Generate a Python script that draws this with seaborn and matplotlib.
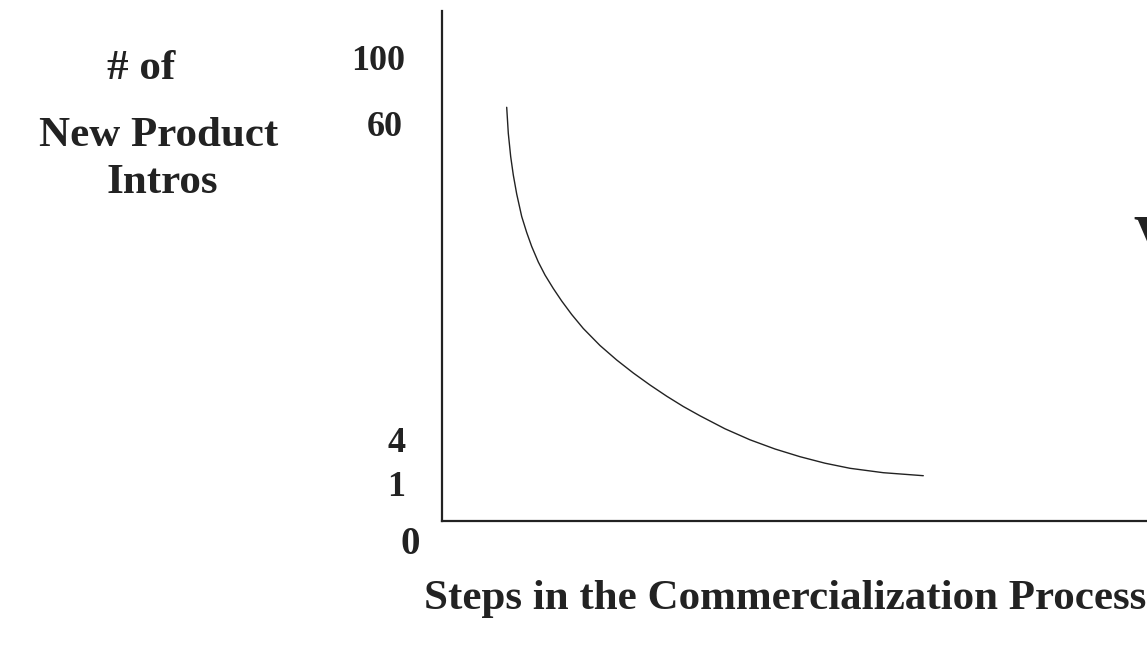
import matplotlib
matplotlib.use("Agg")
import matplotlib.pyplot as plt
import seaborn as sns
import pandas as pd

# Curve (schematic units: steps vs. relative count)
steps = [0.647, 0.663, 0.687, 0.713, 0.747, 0.797, 0.847, 0.897, 0.963, 1.030,
         1.113, 1.197, 1.297, 1.413, 1.580, 1.747, 1.913, 2.080, 2.247, 2.413,
         2.580, 2.830, 3.080, 3.330, 3.580, 3.830, 4.080, 4.413, 4.813]
intros = [4.137, 3.877, 3.643, 3.460, 3.270, 3.045, 2.885, 2.745, 2.590, 2.460,
          2.325, 2.200, 2.065, 1.925, 1.755, 1.610, 1.480, 1.360, 1.248, 1.145,
          1.052, 0.922, 0.812, 0.720, 0.643, 0.578, 0.527, 0.483, 0.453]

tick_labels = ["100", "60", "4", "1", "0"]
tick_pos = [4.60, 3.94, 0.78, 0.33, -0.24]
tick_x = [-0.64, -0.57, -0.45, -0.46, -0.32]
tick_size = [26, 26, 26, 26, 28]

y_label_lines = ["# of", "New Product", "Intros"]
x_label = "Steps in the Commercialization Process"

sns.set_style("white")
plt.rcParams["font.family"] = ["Liberation Serif", "DejaVu Serif"]

W, H = 1147, 649
fig = plt.figure(figsize=(W / 100, H / 100), dpi=100)
ax_left, ax_bottom, ax_top = 442, 521, 11
ax = fig.add_axes([ax_left / W, 1 - ax_bottom / H, (W - ax_left + 5) / W,
                   (ax_bottom - ax_top) / H])

df = pd.DataFrame({"step": steps, "intros": intros})
sns.lineplot(data=df, x="step", y="intros", ax=ax, color="#222222",
             linewidth=1.0, sort=False, estimator=None)

ax.set_xlim(0, (W - ax_left + 5) / 100)
ax.set_ylim(0, (ax_bottom - ax_top) / 100)
ax.set_xticks([])
ax.set_yticks([])
ax.set_xlabel("")
ax.set_ylabel("")
for s in ["top", "right"]:
    ax.spines[s].set_visible(False)
for s in ["left", "bottom"]:
    ax.spines[s].set_color("#222222")
    ax.spines[s].set_linewidth(1.6)

for lab, yp, xp, fs in zip(tick_labels, tick_pos, tick_x, tick_size):
    ax.text(xp, yp, lab, ha="center", va="center", fontsize=fs,
            fontweight="bold", color="#222222", clip_on=False)

txt = dict(fontweight="bold", color="#222222", ha="center", va="center")
for line, (px, py) in zip(y_label_lines, [(141, 69), (159, 136), (162, 183)]):
    fig.text(px / W, 1 - py / H, line, fontsize=31, **txt)

fig.text(785 / W, 1 - 599 / H, x_label, fontsize=31, **txt)
fig.text(1133 / W, 1 - 214 / H, "V", fontsize=44, fontweight="bold",
         color="#222222", ha="left", va="top")

fig.savefig("out.png", dpi=100)
